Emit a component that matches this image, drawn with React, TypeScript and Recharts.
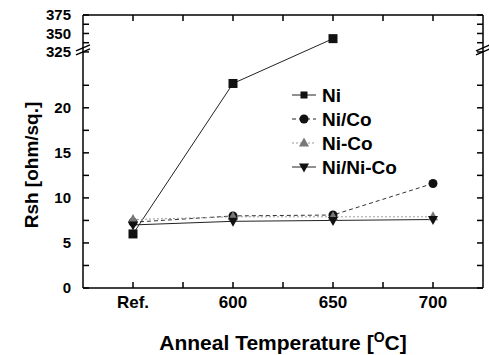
import React from "react"
import { LineChart, Line, XAxis, YAxis, ReferenceLine } from "recharts"

const temps = ["Ref.", "600", "650", "700"]
const ni = [6.0, 22.7, 343, null]
const niSlashCo = [7.3, 8.0, 8.1, 11.6]
const niDashCo = [7.6, 7.9, 7.9, 7.9]
const niSlashNiCo = [7.0, 7.4, 7.5, 7.6]

const yMajor = [0, 5, 10, 15, 20, 325, 350, 375]
const yMinor = [2.5, 7.5, 12.5, 17.5, 22.5, 337.5, 362.5]
const xTicks = [0, 0.5, 1, 1.5, 2, 2.5, 3]

// broken axis: 0..26 linear, then 325..375 squeezed on top
const LOW_TOP = 26
const HIGH_BASE = 26.2
const HIGH_K = 0.082
const toAxis = (v: number) => (v <= LOW_TOP ? v : HIGH_BASE + (v - 325) * HIGH_K)
const fromAxis = (a: number) => (a <= LOW_TOP ? a : Math.round(325 + (a - HIGH_BASE) / HIGH_K))

const FONT = "'Liberation Sans', Arial, sans-serif"
const Y_DOMAIN = [0, toAxis(375)]
const X_DOMAIN = [-0.5, 3.5]
const yTicks = [...yMajor, ...yMinor].map(toAxis).sort((a, b) => a - b)
const yMajorSet = new Set(yMajor.map(toAxis))

const data = temps.map((t, i) => ({
  x: i,
  label: t,
  ni: ni[i] == null ? null : toAxis(ni[i] as number),
  niSlashCo: toAxis(niSlashCo[i]),
  niDashCo: toAxis(niDashCo[i]),
  niSlashNiCo: toAxis(niSlashNiCo[i]),
}))

const square = (p: any) =>
  p.cy == null ? null : <rect key={p.index} x={p.cx - 4.5} y={p.cy - 4.5} width={9} height={9} fill="#111" />
const circle = (p: any) =>
  p.cy == null ? null : <circle key={p.index} cx={p.cx} cy={p.cy} r={4.5} fill="#111" />
const triUp = (p: any) =>
  p.cy == null ? null : (
    <path key={p.index} d={`M${p.cx},${p.cy - 5.5}L${p.cx + 5},${p.cy + 3.5}L${p.cx - 5},${p.cy + 3.5}Z`} fill="#777" />
  )
const triDown = (p: any) =>
  p.cy == null ? null : (
    <path key={p.index} d={`M${p.cx},${p.cy + 5.5}L${p.cx + 5},${p.cy - 3.5}L${p.cx - 5},${p.cy - 3.5}Z`} fill="#111" />
  )

function BreakMark(p: any) {
  const marks = [p.x1, p.x2].map((x: number, i: number) => (
    <g key={i}>
      <path d={`M${x - 7},${p.y1 + 2}L${x + 7},${p.y1 - 4}L${x + 7},${p.y1 - 8}L${x - 7},${p.y1 - 2}Z`} fill="#fff" />
      <line x1={x - 7} y1={p.y1 + 2} x2={x + 7} y2={p.y1 - 4} stroke="#000" strokeWidth={1.5} />
      <line x1={x - 7} y1={p.y1 - 2} x2={x + 7} y2={p.y1 - 8} stroke="#000" strokeWidth={1.5} />
    </g>
  ))
  return <g>{marks}</g>
}

const legendItems = [
  { name: "Ni", dash: undefined, dot: "square" },
  { name: "Ni/Co", dash: "4 3", dot: "circle" },
  { name: "Ni-Co", dash: "2 2", dot: "up" },
  { name: "Ni/Ni-Co", dash: undefined, dot: "down" },
]

function LegendBox() {
  return (
    <svg width={130} height={100} style={{ position: "absolute", left: 290, top: 83 }}>
      {legendItems.map((it, i) => {
        const cy = 12 + i * 24
        const cx = 14
        const p = { cx, cy, index: i }
        return (
          <g key={it.name}>
            <line x1={2} x2={26} y1={cy} y2={cy} stroke={it.dot === "up" ? "#999" : "#222"} strokeDasharray={it.dash} />
            {it.dot === "square" && <rect x={cx - 3.5} y={cy - 3.5} width={7} height={7} fill="#111" />}
            {it.dot === "circle" && circle(p)}
            {it.dot === "up" && triUp(p)}
            {it.dot === "down" && triDown(p)}
            <text x={32} y={cy + 7} fontFamily={FONT} fontWeight="bold" fontSize={19} fill="#000">
              {it.name}
            </text>
          </g>
        )
      })}
    </svg>
  )
}

const tickFont = { fontFamily: FONT, fontWeight: "bold", fill: "#000" }
const lineStyle = { stroke: "#000", strokeWidth: 1.5 }
const noLabel = () => ""

export default function App() {
  return (
    <div style={{ position: "absolute", left: 0, top: 0, width: 489, height: 355, background: "#fff" }}>
      <LineChart width={489} height={355} data={data} margin={{ top: 14, right: 5, bottom: 0, left: 0 }}>
        <XAxis
          xAxisId="b"
          dataKey="x"
          type="number"
          domain={X_DOMAIN}
          ticks={xTicks}
          interval={0}
          height={67}
          tickSize={-6}
          tickMargin={14}
          tickFormatter={(v: number) => (Number.isInteger(v) ? temps[v] : "")}
          tick={{ ...tickFont, fontSize: 17 }}
          axisLine={lineStyle}
          tickLine={lineStyle}
          label={{
            content: () => (
              <text x={283} y={350} textAnchor="middle" fontFamily={FONT} fontWeight="bold" fontSize={21} fill="#000">
                Anneal Temperature [
                <tspan dy={-8} fontSize={14}>O</tspan>
                <tspan dy={8}>C]</tspan>
              </text>
            ),
          }}
        />
        <XAxis
          xAxisId="t"
          orientation="top"
          dataKey="x"
          type="number"
          domain={X_DOMAIN}
          ticks={xTicks}
          interval={0}
          height={1}
          tickSize={-6}
          tickFormatter={noLabel}
          axisLine={lineStyle}
          tickLine={lineStyle}
        />
        <YAxis
          yAxisId="l"
          type="number"
          domain={Y_DOMAIN}
          ticks={yTicks}
          interval={0}
          width={83}
          tickSize={-6}
          tickMargin={18}
          tickFormatter={(v: number) => (yMajorSet.has(v) ? String(fromAxis(v)) : "")}
          tick={{ ...tickFont, fontSize: 15 }}
          axisLine={lineStyle}
          tickLine={lineStyle}
          allowDataOverflow
          label={{
            content: () => (
              <text
                x={31}
                y={165}
                transform="rotate(-90 31 165)"
                dy={7}
                textAnchor="middle"
                fontFamily={FONT}
                fontWeight="bold"
                fontSize={19}
                fill="#000"
              >
                Rsh [ohm/sq.]
              </text>
            ),
          }}
        />
        <YAxis
          yAxisId="r"
          orientation="right"
          type="number"
          domain={Y_DOMAIN}
          ticks={yTicks}
          interval={0}
          width={1}
          tickSize={-6}
          tickFormatter={noLabel}
          axisLine={lineStyle}
          tickLine={lineStyle}
          allowDataOverflow
        />

        <Line xAxisId="b" yAxisId="l" dataKey="ni" stroke="#222" strokeWidth={1} dot={square} isAnimationActive={false} connectNulls={false} />
        <Line xAxisId="b" yAxisId="l" dataKey="niSlashCo" stroke="#333" strokeWidth={1} strokeDasharray="4 3" dot={circle} isAnimationActive={false} />
        <Line xAxisId="b" yAxisId="l" dataKey="niDashCo" stroke="#999" strokeWidth={1} strokeDasharray="2 2" dot={triUp} isAnimationActive={false} />
        <Line xAxisId="b" yAxisId="l" dataKey="niSlashNiCo" stroke="#222" strokeWidth={1} dot={triDown} isAnimationActive={false} />
        <ReferenceLine xAxisId="b" yAxisId="l" y={HIGH_BASE - 0.1} ifOverflow="visible" shape={BreakMark} />
      </LineChart>
      <LegendBox />
    </div>
  )
}
